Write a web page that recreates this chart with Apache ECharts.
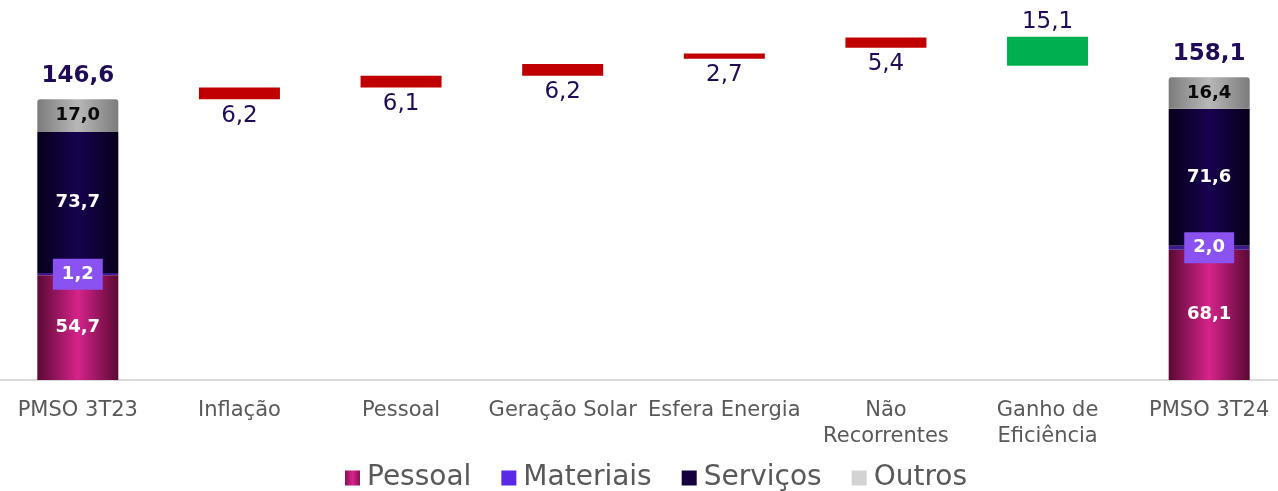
<!DOCTYPE html>
<html>
<head>
<meta charset="utf-8">
<title>PMSO 3T23 x 3T24</title>
<script src="https://cdn.jsdelivr.net/npm/echarts@6/dist/echarts.min.js"></script>
<style>
    html, body { margin: 0; padding: 0; background: #fff; }
    #main { width: 1278px; height: 491px; }
</style>
</head>
<body>
<div id="main"></div>
<script>
// categorias do eixo x
var categorias = ['PMSO 3T23', 'Inflação', 'Pessoal', 'Geração Solar', 'Esfera Energia', 'Não\nRecorrentes', 'Ganho de\nEficiência', 'PMSO 3T24'];

// composição das barras cheias (3T23 e 3T24)
var pessoal   = [54.7, '-', '-', '-', '-', '-', '-', 68.1];
var materiais = [1.2,  '-', '-', '-', '-', '-', '-', 2.0];
var servicos  = [73.7, '-', '-', '-', '-', '-', '-', 71.6];
var outros    = [17.0, '-', '-', '-', '-', '-', '-', 16.4];
var totais    = [146.6, '-', '-', '-', '-', '-', '-', 158.1];

// degraus da cascata (base invisivel)
var base      = ['-', 146.6, 152.8, 158.9, 167.8, 173.5, 164.2, '-'];
var aumentos  = ['-', 6.2, 6.1, 6.2, 2.7, 5.4, '-', '-'];
var reducoes  = ['-', '-', '-', '-', '-', '-', 15.1, '-'];

var fonte = 'DejaVu Sans';

function fmt(v) {
    return v.toFixed(1).replace('.', ',');
}

function gradH(borda, centro) {
    return new echarts.graphic.LinearGradient(0, 0, 1, 0, [
        {offset: 0, color: borda},
        {offset: 0.5, color: centro},
        {offset: 1, color: borda}
    ]);
}

function labelInterno(cor) {
    return {
        show: true,
        position: 'inside',
        fontFamily: fonte,
        fontSize: 18,
        fontWeight: 'bold',
        color: cor,
        formatter: function (p) { return fmt(p.value); }
    };
}

var chart = echarts.init(document.getElementById('main'));

var option = {
    backgroundColor: '#ffffff',
    animation: false,
    grid: { left: -3, width: 1293, top: 0, bottom: 111, outerBoundsMode: 'none', containLabel: false },
    legend: {
        data: [
            {name: 'Pessoal', itemStyle: {color: gradH('#8a1055', '#d8248c')}},
            {name: 'Materiais', itemStyle: {color: '#5a2ae6'}},
            {name: 'Serviços', itemStyle: {color: '#14003f'}},
            {name: 'Outros', itemStyle: {color: '#d3d3d3'}}
        ],
        left: 340,
        top: 459,
        itemWidth: 15,
        itemHeight: 15,
        itemGap: 30,
        icon: 'rect',
        textStyle: { fontFamily: fonte, fontSize: 28, color: '#595959', padding: [0, 0, 0, 2] }
    },
    xAxis: {
        type: 'category',
        data: categorias,
        axisTick: { show: false },
        axisLine: { lineStyle: { color: '#d9d9d9', width: 2 } },
        axisLabel: {
            interval: 0,
            margin: 18,
            fontFamily: fonte,
            fontSize: 21,
            lineHeight: 26,
            color: '#595959'
        }
    },
    yAxis: {
        type: 'value',
        min: 0,
        max: 198.5,
        show: false,
        splitLine: { show: false }
    },
    series: [
        {
            name: 'base',
            type: 'bar',
            stack: 'w',
            barWidth: 81,
            itemStyle: { color: 'transparent' },
            data: base
        },
        {
            name: 'Pessoal',
            type: 'bar',
            stack: 'w',
            itemStyle: { color: gradH('#5a0934', '#d6238a') },
            label: labelInterno('#ffffff'),
            data: pessoal
        },
        {
            name: 'Materiais',
            type: 'bar',
            stack: 'w',
            itemStyle: { color: '#3c1a8c' },
            label: {
                show: true,
                position: 'inside',
                fontFamily: fonte,
                fontSize: 18,
                fontWeight: 'bold',
                color: '#ffffff',
                backgroundColor: '#8a52f0',
                padding: [5, 9],
                lineHeight: 21,
                formatter: function (p) { return fmt(p.value); }
            },
            z: 3,
            data: materiais
        },
        {
            name: 'Serviços',
            type: 'bar',
            stack: 'w',
            itemStyle: { color: gradH('#07001a', '#17024f') },
            label: labelInterno('#ffffff'),
            data: servicos
        },
        {
            name: 'Outros',
            type: 'bar',
            stack: 'w',
            itemStyle: { color: gradH('#7c7c7c', '#b8b8b8'), borderRadius: [3, 3, 0, 0] },
            label: labelInterno('#0a0a0a'),
            data: outros
        },
        {
            name: 'total',
            type: 'bar',
            stack: 'w',
            itemStyle: { color: 'transparent' },
            label: {
                show: true,
                position: 'top',
                distance: 12,
                fontFamily: fonte,
                fontSize: 23,
                fontWeight: 'bold',
                color: '#1f0b57',
                formatter: function (p) { return fmt(totais[p.dataIndex]); }
            },
            data: totais.map(function (t) { return t === '-' ? '-' : 0; })
        },
        {
            name: 'aumento',
            type: 'bar',
            stack: 'w',
            itemStyle: { color: '#c00000' },
            label: {
                show: true,
                position: 'bottom',
                distance: 5,
                fontFamily: fonte,
                fontSize: 23,
                color: '#1f0b57',
                formatter: function (p) { return fmt(p.value); }
            },
            data: aumentos
        },
        {
            name: 'reducao',
            type: 'bar',
            stack: 'w',
            itemStyle: { color: '#00b050' },
            label: {
                show: true,
                position: 'top',
                distance: 3,
                fontFamily: fonte,
                fontSize: 23,
                color: '#1f0b57',
                formatter: function (p) { return fmt(p.value); }
            },
            data: reducoes
        }
    ]
};

chart.setOption(option);
</script>
</body>
</html>
